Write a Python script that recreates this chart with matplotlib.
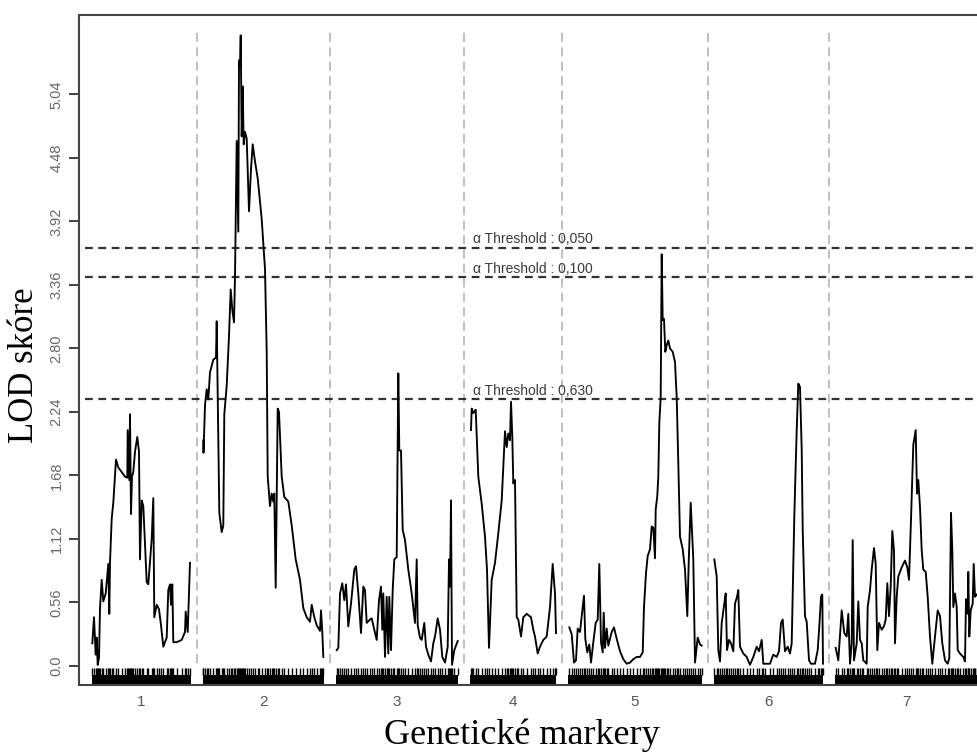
import matplotlib
matplotlib.use('Agg')
import matplotlib.pyplot as plt
import numpy as np

# chromosome lengths (cM) and gap between them on the plot
chrom_names = ['1', '2', '3', '4', '5', '6', '7']
chrom_len = [99, 121, 122, 86, 134, 109, 142]
gap = 12

# LOD profiles: position within chromosome, LOD
pos1 = [0.3, 2.0, 3.7, 4.7, 5.7, 7, 8, 9.7, 11.3, 13.7, 16.3, 17.3, 18, 19.7, 21.3, 24, 26.3, 29.7,
        33, 35.3, 35.7, 37.3, 38, 39, 40, 41.3, 43, 45.3, 47, 48, 49.7, 51.3, 54.7, 56.3, 59.7, 61.3,
        62.3, 64.7, 67, 69, 71.3, 74.7, 76.3, 78, 79, 80.3, 81.3, 84.7, 89.7, 93, 93.7, 95.7, 98]
lod1 = [0.20, 0.43, 0.10, 0.25, 0.01, 0.07, 0.51, 0.76, 0.57, 0.64, 0.90, 0.46, 0.91, 1.30, 1.44, 1.82,
        1.75, 1.71, 1.67, 1.66, 2.08, 1.64, 2.22, 1.34, 1.67, 1.71, 1.89, 2.02, 1.89, 0.94, 1.46, 1.41,
        0.74, 0.72, 1.12, 1.48, 0.43, 0.54, 0.50, 0.36, 0.17, 0.25, 0.67, 0.72, 0.54, 0.72, 0.21, 0.21,
        0.23, 0.30, 0.48, 0.30, 0.91]

pos2 = [0.3, 0.5, 2, 3.7, 5.3, 7, 10.3, 13, 13.7, 14.7, 16.3, 18.7, 20.3, 21.3, 23.7, 26, 27.7, 29.3,
        31, 32, 33.7, 35.3, 36, 37, 37.7, 38.7, 39.7, 40.7, 42, 43.7, 46, 48, 49.7, 52, 54.7, 56.3,
        58.7, 62, 63.7, 64.7, 67, 68.7, 70.3, 71.3, 72.7, 74.7, 76, 78.7, 81.3, 85.3, 88.7, 92.7, 97,
        100.3, 103.7, 107, 108.7, 111.3, 113.7, 117, 118, 119.3, 120.3]
lod2 = [1.99, 1.88, 2.30, 2.44, 2.35, 2.59, 2.70, 2.72, 3.04, 2.40, 1.35, 1.18, 1.24, 2.22, 2.47, 2.91,
        3.32, 3.14, 3.03, 3.43, 4.63, 3.83, 5.34, 5.29, 5.56, 4.67, 5.11, 4.60, 4.71, 4.65, 4.01, 4.38,
        4.60, 4.45, 4.30, 4.16, 3.94, 3.50, 2.77, 1.67, 1.41, 1.52, 1.45, 1.52, 0.69, 2.27, 2.24, 1.67,
        1.49, 1.45, 1.24, 0.94, 0.76, 0.51, 0.43, 0.39, 0.54, 0.43, 0.36, 0.31, 0.49, 0.30, 0.08]

pos3 = [0.7, 2.3, 4, 6.3, 8.3, 10, 12.3, 15, 18.3, 20, 22.3, 25, 27.3, 29, 30.7, 34, 35.7, 38.3, 40.7,
        43, 45, 46.3, 47.3, 49, 50.7, 52.3, 53.3, 55, 56.7, 58.3, 60.7, 62.3, 63.3, 65, 66.7, 69, 72.3,
        75.7, 79, 80.7, 81.7, 84, 85.7, 88.3, 90, 92.3, 95, 97.3, 99, 101.7, 104, 106.3, 109, 111.7,
        113, 114, 115, 116, 118.3, 121.7]
lod3 = [0.14, 0.16, 0.64, 0.73, 0.58, 0.72, 0.35, 0.55, 0.85, 0.88, 0.64, 0.29, 0.70, 0.67, 0.38, 0.41,
        0.42, 0.32, 0.23, 0.58, 0.70, 0.32, 0.64, 0.08, 0.61, 0.11, 0.61, 0.14, 0.67, 0.94, 0.96, 2.58,
        1.90, 1.90, 1.20, 1.11, 0.85, 0.64, 0.38, 0.94, 0.36, 0.25, 0.23, 0.38, 0.17, 0.10, 0.04, 0.20,
        0.26, 0.42, 0.32, 0.08, 0.03, 0.17, 0.94, 0.70, 1.46, 0.01, 0.14, 0.22]

pos4 = [1, 1.7, 3.3, 5.7, 8.3, 11.7, 15, 17, 19, 21.7, 25, 28.3, 31.7, 35, 36.7, 38.3, 40, 41, 42.3,
        43.3, 45, 46.7, 48.3, 51, 53.3, 56.7, 61, 63.3, 65, 67.7, 70, 73.3, 76.7, 80, 82.7, 85, 86]
lod4 = [2.08, 2.27, 2.23, 2.26, 1.67, 1.43, 1.14, 0.85, 0.16, 0.76, 0.91, 1.17, 1.46, 2.07, 1.93, 2.05,
        1.99, 2.33, 2.02, 1.61, 1.64, 0.43, 0.41, 0.26, 0.43, 0.46, 0.43, 0.32, 0.26, 0.11, 0.17, 0.23,
        0.26, 0.52, 0.90, 0.64, 0.29]

pos5 = [1.3, 3.7, 6, 8, 9.7, 12, 13.7, 16, 17.3, 19.3, 21.3, 23, 25.3, 27.7, 29.7, 31.3, 33, 34.7, 35.7,
        37, 38.7, 40.3, 43.7, 46, 48.7, 52, 55.3, 58.7, 62, 65.3, 68.7, 72, 74.7, 76, 78, 79.7, 82, 83.7,
        85.3, 87, 87.7, 89.3, 90.3, 91.3, 92.7, 93.7, 94.7, 96, 97.3, 98.7, 100.3, 102, 104.7, 107,
        108.7, 110.3, 112, 114.7, 117, 119.3, 120.7, 122.7, 125.3, 127, 129.7, 132, 133.7]
lod5 = [0.34, 0.28, 0.03, 0.05, 0.33, 0.30, 0.44, 0.62, 0.24, 0.12, 0.19, 0.03, 0.21, 0.38, 0.41, 0.90,
        0.21, 0.12, 0.47, 0.16, 0.33, 0.18, 0.30, 0.34, 0.24, 0.13, 0.06, 0.02, 0.03, 0.06, 0.08, 0.08,
        0.12, 0.52, 0.82, 0.97, 1.03, 1.23, 1.22, 0.95, 1.38, 1.50, 1.67, 2.14, 2.37, 3.63, 3.05, 3.06,
        2.77, 2.83, 2.87, 2.80, 2.77, 2.68, 2.37, 1.79, 1.14, 1.03, 0.85, 0.44, 0.91, 1.44, 0.94, 0.03,
        0.25, 0.19, 0.18]

pos6 = [0.3, 2.7, 4.3, 6, 7.7, 10.3, 11.7, 13, 15, 17, 19.3, 21, 23, 24.3, 26, 29.3, 32.7, 36, 39.3,
        42.7, 45, 47.7, 49.3, 51, 56, 59.3, 62.7, 65, 67, 68.7, 71, 73.7, 76, 77.7, 80.3, 82.7, 84.3,
        86, 87.7, 88.7, 91, 92.7, 95, 97, 101, 103.7, 105.3, 107, 108.3, 109]
lod6 = [0.94, 0.79, 0.14, 0.04, 0.38, 0.55, 0.64, 0.14, 0.23, 0.20, 0.13, 0.55, 0.61, 0.67, 0.17, 0.11,
        0.08, 0.01, 0.08, 0.17, 0.13, 0.23, 0.02, 0.02, 0.02, 0.10, 0.08, 0.13, 0.38, 0.41, 0.13, 0.17,
        0.11, 0.20, 1.32, 2.08, 2.49, 2.46, 1.91, 1.20, 0.44, 0.39, 0.05, 0.02, 0.02, 0.14, 0.35, 0.61,
        0.63, 0.02]

pos7 = [0.7, 3.3, 6.7, 9.3, 11.7, 13.3, 15, 16.7, 17.7, 19, 21.7, 23.3, 25, 26.7, 28.3, 31.7, 32.7, 35,
        36.7, 39, 40.7, 42.3, 44, 46.7, 49, 50.7, 52.3, 54, 55.7, 57.3, 59, 60, 61.7, 63.3, 66.7, 70,
        72.3, 74, 76, 78.3, 80.7, 82, 83.3, 85, 86.7, 88.3, 90.7, 92.7, 95, 97.3, 100, 102.7, 105,
        107.3, 110, 112.7, 114.3, 116, 117.3, 118.3, 120, 121.7, 122.7, 125, 128.3, 130, 131, 132.7,
        133.3, 134.3, 135.7, 137.7, 138.7, 140, 141.7]
lod7 = [0.16, 0.05, 0.49, 0.29, 0.26, 0.46, 0.02, 0.20, 1.11, 0.05, 0.20, 0.57, 0.23, 0.20, 0.05, 0.02,
        0.52, 0.67, 0.85, 1.04, 0.90, 0.14, 0.38, 0.32, 0.35, 0.41, 0.73, 0.44, 0.70, 1.19, 1.02, 0.20,
        0.61, 0.79, 0.87, 0.93, 0.87, 0.76, 1.29, 1.95, 2.08, 1.52, 1.64, 1.40, 1.02, 0.85, 0.83, 0.61,
        0.26, 0.02, 0.26, 0.49, 0.44, 0.20, 0.05, 0.02, 0.07, 1.35, 1.02, 0.52, 0.64, 0.52, 0.14, 0.11,
        0.08, 0.04, 0.59, 0.46, 0.83, 0.26, 0.49, 0.55, 0.90, 0.61, 0.63]

positions = [pos1, pos2, pos3, pos4, pos5, pos6, pos7]
lods = [lod1, lod2, lod3, lod4, lod5, lod6, lod7]

# permutation thresholds
thr_alpha = ['0,050', '0,100', '0,630']
thr_lod = [3.69, 3.43, 2.35]

yticks = [0.0, 0.56, 1.12, 1.68, 2.24, 2.80, 3.36, 3.92, 4.48, 5.04]
ytick_labels = ['0.0', '0.56', '1.12', '1.68', '2.24', '2.80', '3.36', '3.92', '4.48', '5.04']

starts = np.concatenate([[0], np.cumsum(np.array(chrom_len[:-1]) + gap)])

fig = plt.figure(figsize=(9.78, 7.54), dpi=100)
ax = fig.add_axes([79 / 978, 69 / 754, 911 / 978, 670 / 754])

xmin, xmax = -13, 898
ymin, ymax = -0.1675, 5.74

# chromosome boundaries
for s in starts[1:]:
    ax.vlines(s - gap / 2, 0.03, 5.58, colors='#bbbbbb', linestyles=(0, (5, 3)), linewidth=1.3)

# thresholds
for a, t in zip(thr_alpha, thr_lod):
    ax.hlines(t, -7, xmax, colors='#333333', linestyles=(0, (3.5, 2.5)), linewidth=1.6)
    ax.text(441, t + 0.012, '\u03b1 Threshold : ' + a, ha='center', va='bottom',
            fontsize=10, color='#3a3a3a', family='Liberation Sans')

# LOD curves and marker rug
for s, ln, p, l in zip(starts, chrom_len, positions, lods):
    x = s + np.array(p)
    ax.plot(x, l, color='black', linewidth=1.35)
    ax.fill_between([s, s + ln], -0.165, -0.08, color='black', linewidth=0)
    ax.vlines(x, -0.08, -0.015, colors='black', linewidth=1.0)

ax.set_xlim(xmin, xmax)
ax.set_ylim(ymin, ymax)

ax.set_yticks(yticks)
ax.set_yticklabels(ytick_labels, rotation=90, va='center', fontsize=10.5,
                   color='#666666', family='Liberation Sans')
ax.tick_params(axis='y', length=7, width=1.3, color='#333333', pad=4)

ax.set_xticks(starts + np.array(chrom_len) / 2)
ax.set_xticklabels(chrom_names, fontsize=11, color='#555555', family='Liberation Sans')
ax.tick_params(axis='x', length=0, pad=7)

for side in ['top', 'left', 'bottom']:
    ax.spines[side].set_color('#444444')
    ax.spines[side].set_linewidth(1.5)
ax.spines['right'].set_visible(False)

fig.text(25 / 978, 1 - 365 / 754, 'LOD skóre', rotation=90, ha='center', va='center',
         fontsize=25, family='Liberation Serif')
fig.text(522 / 978, 1 - 735 / 754, 'Genetické markery', ha='center', va='center',
         fontsize=26, family='Liberation Serif')

fig.savefig('out.png', dpi=100)
